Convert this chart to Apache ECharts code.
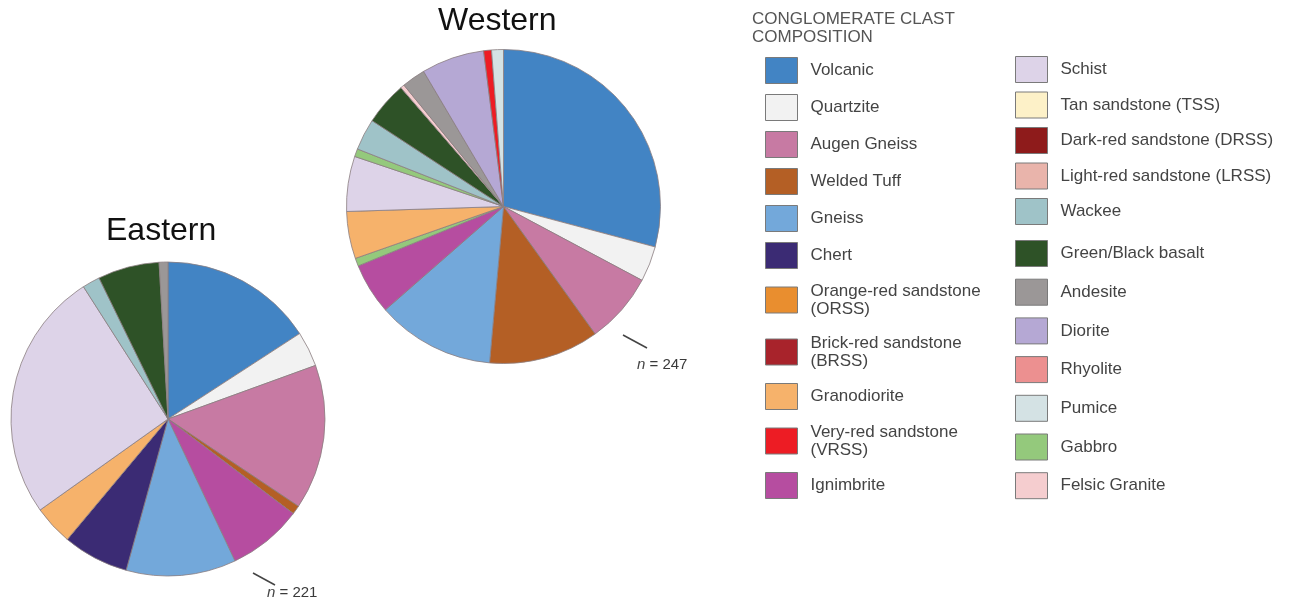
<!DOCTYPE html>
<html>
<head>
<meta charset="utf-8">
<script src="https://cdn.jsdelivr.net/npm/echarts@6/dist/echarts.min.js"></script>
<style>
  html, body { margin: 0; padding: 0; background: #fff; }
  #chart { width: 1294px; height: 603px; }
</style>
</head>
<body>
<div id="chart"></div>
<script>
const categories = [
  'Volcanic', 'Quartzite', 'Augen Gneiss', 'Welded Tuff', 'Gneiss', 'Chert',
  'Orange-red sandstone (ORSS)', 'Brick-red sandstone (BRSS)', 'Granodiorite',
  'Very-red sandstone (VRSS)', 'Ignimbrite',
  'Schist', 'Tan sandstone (TSS)', 'Dark-red sandstone (DRSS)', 'Light-red sandstone (LRSS)',
  'Wackee', 'Green/Black basalt', 'Andesite', 'Diorite', 'Rhyolite', 'Pumice', 'Gabbro',
  'Felsic Granite'
];
const colors = [
  '#4284c4', '#f2f2f2', '#c77aa3', '#b45f25', '#73a8da', '#3b2b74',
  '#e98e2f', '#a8232b', '#f6b26b', '#ed1c24', '#b64da0',
  '#ddd3e8', '#fdf1c8', '#8e1b1b', '#e9b4ab', '#9fc3c8', '#2e5227',
  '#9b9797', '#b5a8d4', '#ec9090', '#d4e2e4', '#94c97c', '#f5cdcf'
];

// Western site, n = 247 (clockwise from 12 o'clock)
const westernNames = [
  'Volcanic', 'Quartzite', 'Augen Gneiss', 'Welded Tuff', 'Gneiss', 'Ignimbrite',
  'Gabbro', 'Granodiorite', 'Schist', 'Gabbro', 'Wackee', 'Green/Black basalt',
  'Felsic Granite', 'Andesite', 'Diorite', 'Very-red sandstone (VRSS)', 'Pumice'
];
const westernCounts = [72, 9, 18, 28, 30, 13, 2, 12, 14, 2, 8, 11, 1, 6, 16, 2, 3];

// Eastern site, n = 221
const easternNames = [
  'Volcanic', 'Quartzite', 'Augen Gneiss', 'Welded Tuff', 'Ignimbrite', 'Gneiss',
  'Chert', 'Granodiorite', 'Schist', 'Wackee', 'Green/Black basalt', 'Andesite'
];
const easternCounts = [35, 8, 33, 2, 17, 25, 15, 9, 57, 4, 14, 2];

const FONT = '"Liberation Sans", Arial, sans-serif';
const colorOf = name => colors[categories.indexOf(name)];

function pieData(names, counts) {
  return names.map((n, i) => ({
    name: n,
    value: counts[i],
    itemStyle: { color: colorOf(n) }
  }));
}

// categories not present in any pie still need a legend entry
const used = new Set(westernNames.concat(easternNames));
const unused = categories.filter(c => !used.has(c)).map(c => ({
  name: c, value: 0, itemStyle: { color: colorOf(c), borderWidth: 0 }
}));

const pieBase = {
  type: 'pie',
  radius: 157,
  startAngle: 90,
  clockwise: true,
  label: { show: false },
  labelLine: { show: false },
  emphasis: { disabled: true },
  silent: true,
  itemStyle: { borderColor: '#8a7e80', borderWidth: 0.8 }
};

const legendBase = {
  orient: 'vertical',
  padding: 0,
  icon: 'rect',
  itemWidth: 32,
  itemHeight: 26,
  selectedMode: false,
  itemStyle: { borderColor: '#7a7a7a', borderWidth: 1 },
  textStyle: { fontFamily: FONT, fontSize: 17, color: '#444', lineHeight: 18, padding: [3, 0, 3, 8] }
};

const chart = echarts.init(document.getElementById('chart'));
chart.setOption({
  animation: false,
  backgroundColor: '#fff',
  legend: [
    Object.assign({}, legendBase, {
      left: 765, top: 57, itemGap: 10,
      data: categories.slice(0, 11),
      formatter: name => name.replace(' (', '\n(')
    }),
    // right column: the upper block sits a bit tighter than the lower one
    Object.assign({}, legendBase, {
      left: 1015, top: 56, itemGap: 8.5,
      data: categories.slice(11, 16)
    }),
    Object.assign({}, legendBase, {
      left: 1015, top: 240, itemGap: 11.7,
      data: categories.slice(16)
    })
  ],
  series: [
    Object.assign({}, pieBase, {
      name: 'Western',
      center: [503.5, 206.5],
      data: pieData(westernNames, westernCounts).concat(unused)
    }),
    Object.assign({}, pieBase, {
      name: 'Eastern',
      center: [168, 419],
      data: pieData(easternNames, easternCounts)
    })
  ],
  graphic: [
    { type: 'text', left: 438, top: 5, style: { text: 'Western', font: '32px ' + FONT, fill: '#111' } },
    { type: 'text', left: 106, top: 215, style: { text: 'Eastern', font: '32px ' + FONT, fill: '#111' } },
    { type: 'text', left: 752, top: 10, style: {
      text: 'CONGLOMERATE CLAST\nCOMPOSITION', font: '17px ' + FONT, fill: '#555', lineHeight: 18.5 } },
    { type: 'line', shape: { x1: 623, y1: 335, x2: 647, y2: 348 }, style: { stroke: '#444', lineWidth: 1.5 } },
    { type: 'text', left: 637, top: 357, style: {
      text: '{i|n} = 247', font: '15px ' + FONT, fill: '#3a3a3a',
      rich: { i: { fontStyle: 'italic', fontSize: 15, fontFamily: FONT, fill: '#444' } } } },
    { type: 'line', shape: { x1: 253, y1: 573, x2: 275, y2: 585 }, style: { stroke: '#444', lineWidth: 1.5 } },
    { type: 'text', left: 267, top: 585, style: {
      text: '{i|n} = 221', font: '15px ' + FONT, fill: '#3a3a3a',
      rich: { i: { fontStyle: 'italic', fontSize: 15, fontFamily: FONT, fill: '#444' } } } }
  ]
});

window.addEventListener('resize', () => chart.resize());
</script>
</body>
</html>
